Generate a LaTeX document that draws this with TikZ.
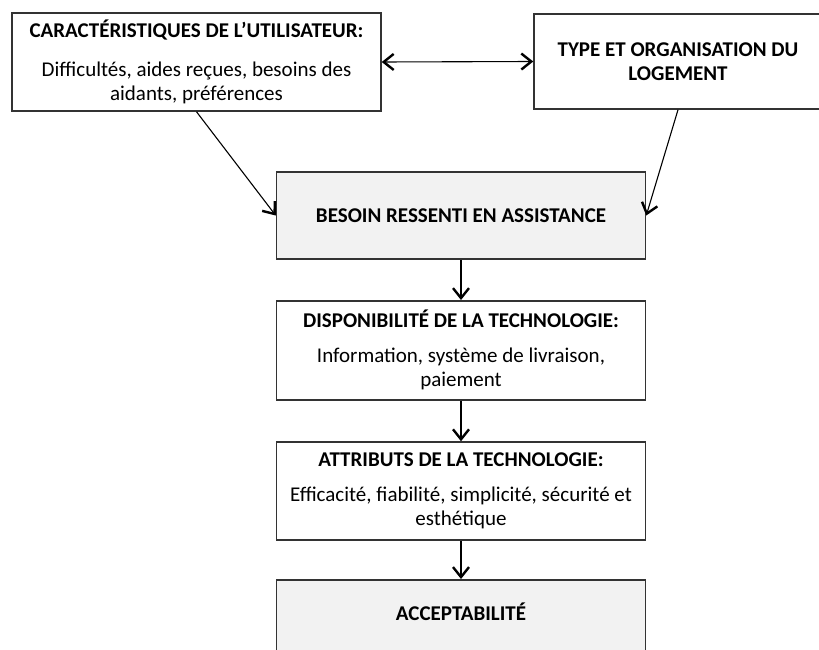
\documentclass[tikz,border=0pt]{standalone}
\usepackage{fontspec}
\setmainfont{Carlito}
\usetikzlibrary{arrows.meta}

\begin{document}
\begin{tikzpicture}[x=1pt, y=-1pt, font=\fontsize{21}{24}\selectfont,
  barb/.tip={Straight Barb[length=10pt,width=16pt,line width=2.4pt]},
  box/.style={draw=black!80, line width=1.5pt, align=center, inner sep=0pt, minimum width=369pt},
  shaded/.style={box, fill=black!5},
  flow/.style={-barb, line width=1.1pt}]
\useasboundingbox (0,0) rectangle (819,650);

%top row
\node[box, minimum height=98pt] (user) at (196.5,62) {\textbf{CARACTÉRISTIQUES DE L’UTILISATEUR:}\\[15pt]Difficultés, aides reçues, besoins des\\aidants, préférences};
\node[box, minimum width=288pt, minimum height=95pt] (logement) at (678,61.5) {\textbf{TYPE ET ORGANISATION DU}\\\textbf{LOGEMENT}};

%main column
\node[shaded, minimum height=87pt] (besoin) at (461,215.5) {\textbf{BESOIN RESSENTI EN ASSISTANCE}};
\node[box, minimum height=99pt] (dispo) at (461,350.3) {\textbf{DISPONIBILITÉ DE LA TECHNOLOGIE:}\\[11pt]Information, système de livraison,\\paiement};
\node[box, minimum height=98pt] (attributs) at (461,491) {\textbf{ATTRIBUTS DE LA TECHNOLOGIE:}\\[11pt]Efficacité, fiabilité, simplicité, sécurité et\\esthétique};
\node[shaded, anchor=north, inner ysep=28pt, text height=13pt, text depth=40pt] (accept) at (461,579) {\textbf{ACCEPTABILITÉ}};

%connectors
\draw[flow, barb-barb] (user.east) -- (logement.west);
\draw[flow] (user.south) -- (besoin.west);
\draw[flow] (logement.south) -- (besoin.east);
\draw[flow] (besoin) -- (dispo);
\draw[flow] (dispo) -- (attributs);
\draw[flow] (attributs) -- (accept);
\end{tikzpicture}
\end{document}
